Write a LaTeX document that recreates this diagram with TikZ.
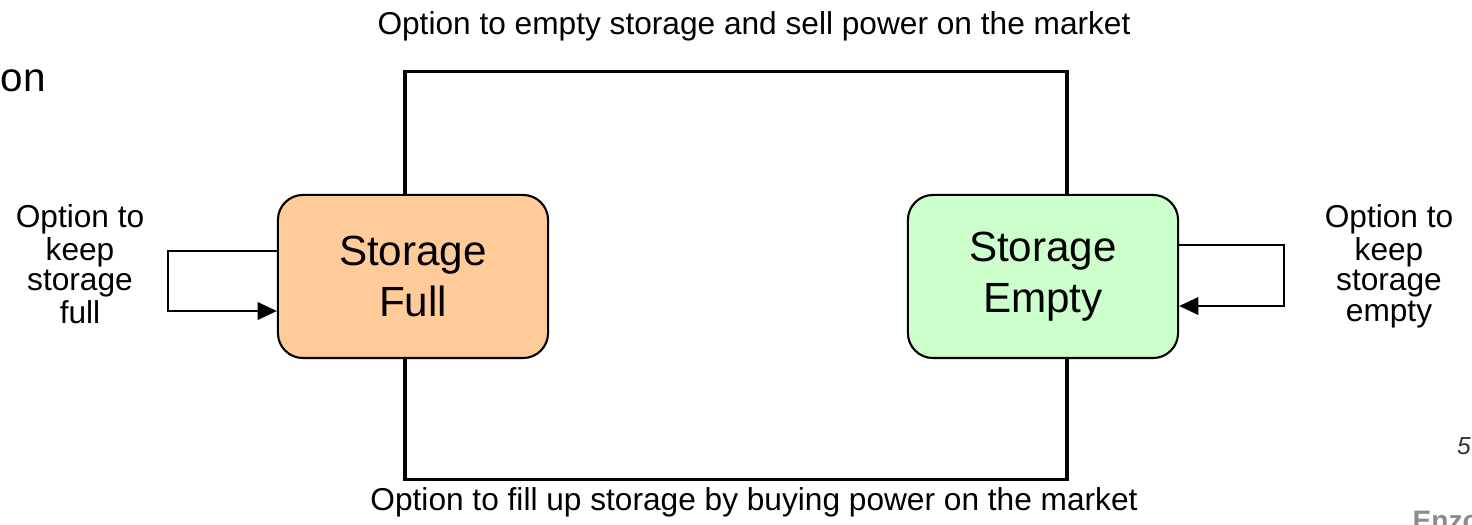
\documentclass[tikz,border=0pt]{standalone}
\usepackage{fontspec}
\setmainfont{Liberation Sans}
\usetikzlibrary{arrows.meta}
\definecolor{fullcol}{RGB}{255,204,153}
\definecolor{emptycol}{RGB}{204,255,204}
\begin{document}
\begin{tikzpicture}[x=0.01cm, y=-0.01cm,
		state/.style={draw, line width=0.6pt, rounded corners=0.25cm, minimum width=2.7cm, minimum height=1.63cm, align=center, font=\fontsize{12}{14.5}\selectfont},
		link/.style={line width=0.9pt},
		keep/.style={line width=0.6pt, -{Triangle[length=5.5pt,width=5pt]}},
		lab/.style={align=center, inner sep=0pt, font=\fontsize{9}{7.4}\selectfont}]
		\useasboundingbox (0,0) rectangle (1472,525);
		\clip (0,0) rectangle (1472,525);
		% the two states
		\node[state, fill=fullcol] (full) at (413,276.5) {Storage\\Full};
		\node[state, fill=emptycol] (empty) at (1043,276.5) {Storage\\Empty};
		% switching between them
		\draw[link] ([xshift=-0.08cm]full.north) -- ++(0,-122) -| ([xshift=0.24cm]empty.north);
		\draw[link] ([xshift=-0.08cm]full.south) -- ++(0,120) -| ([xshift=0.24cm]empty.south);
		\node[lab, anchor=base] (sell) at (754,35) {Option to empty storage and sell power on the market};
		\node[lab, anchor=base] (buy) at (754,511) {Option to fill up storage by buying power on the market};
		% staying put
		\draw[keep] ([yshift=0.255cm]full.west) -| (168,280) |- ([yshift=-0.345cm]full.west);
		\draw[keep] ([yshift=0.315cm]empty.east) -| (1284,280) |- ([yshift=-0.295cm]empty.east);
		\node[lab] (keepfull) at (80,264) {Option to\\keep\\storage\\full};
		\node[lab] (keepempty) at (1389,266) {Option to\\keep\\storage\\empty};
		% bits of the slide around it
		\node[anchor=base west, inner sep=0pt, font=\fontsize{11.5}{14}\selectfont] (title) at (0,92) {on};
		\node[anchor=base, inner sep=0pt, font=\fontsize{7}{8}\selectfont\itshape, text=black!80] (page) at (1464,455) {5};
		\node[anchor=north west, inner sep=0pt, font=\fontsize{8}{9}\selectfont\bfseries, text=black!45] (author) at (1412,510) {Enzo Fanon};
	\end{tikzpicture}
\end{document}
